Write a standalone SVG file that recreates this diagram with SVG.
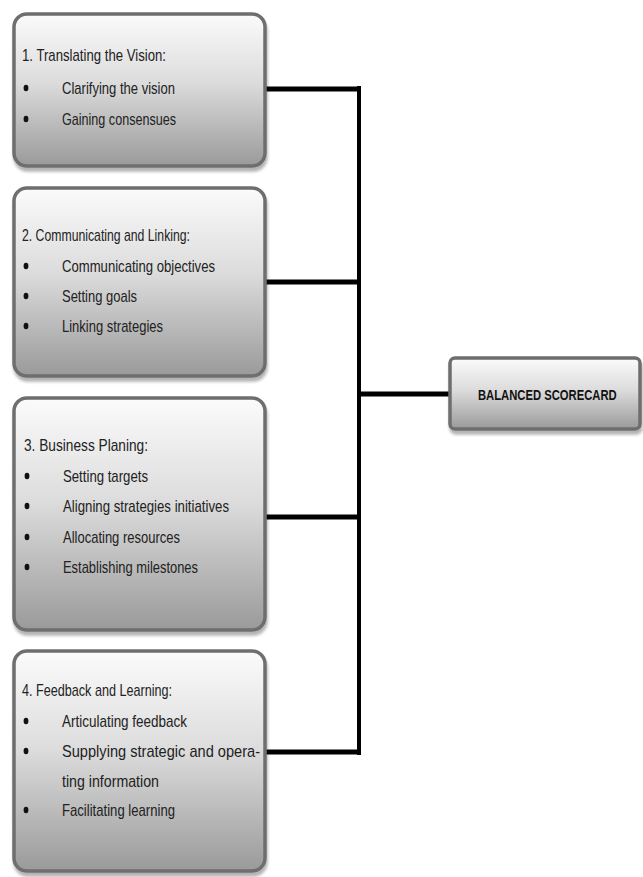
<svg xmlns="http://www.w3.org/2000/svg" width="643" height="877" viewBox="0 0 643 877">
<defs>
<linearGradient id="g" x1="0" y1="0" x2="0" y2="1">
<stop offset="0" stop-color="#fbfbfb"/>
<stop offset="0.45" stop-color="#dcdcdc"/>
<stop offset="1" stop-color="#9a9a9a"/>
</linearGradient>
<filter id="sh" x="-5%" y="-5%" width="110%" height="115%">
<feGaussianBlur in="SourceAlpha" stdDeviation="1.5"/>
<feOffset dx="1" dy="4" result="o"/>
<feComponentTransfer><feFuncA type="linear" slope="0.3"/></feComponentTransfer>
<feMerge><feMergeNode/><feMergeNode in="SourceGraphic"/></feMerge>
</filter>
</defs>
<style>
.box{fill:url(#g);stroke:#6e6e6e;stroke-width:3.5;filter:url(#sh)}
.t{font-family:"Liberation Sans",Arial,sans-serif;font-size:17px;fill:#222}
.b{font-family:"Liberation Sans",Arial,sans-serif;font-size:15px;font-weight:bold;fill:#111}
.dot{fill:#111}
.con{stroke:#000;fill:none;stroke-linecap:square}
</style>
<rect width="643" height="877" fill="#fff"/>
<g id="connectors">
<line class="con" x1="266" y1="89" x2="358" y2="89" stroke-width="5"/>
<line class="con" x1="266" y1="282" x2="358" y2="282" stroke-width="5"/>
<line class="con" x1="266" y1="517" x2="358" y2="517" stroke-width="5"/>
<line class="con" x1="266" y1="752" x2="358" y2="752" stroke-width="5"/>
<line class="con" x1="359" y1="88" x2="359" y2="753" stroke-width="4"/>
<line class="con" x1="361" y1="394" x2="448" y2="394" stroke-width="5"/>
</g>
<g id="node1">
<rect class="box" x="14" y="14" width="251" height="152" rx="13"/>
<text class="t" x="22" y="61" textLength="144" lengthAdjust="spacingAndGlyphs">1. Translating the Vision:</text>
<ellipse class="dot" cx="26" cy="88" rx="2.4" ry="3.2"/>
<text class="t" x="62" y="94" textLength="113" lengthAdjust="spacingAndGlyphs">Clarifying the vision</text>
<ellipse class="dot" cx="26" cy="119" rx="2.4" ry="3.2"/>
<text class="t" x="62" y="125" textLength="114" lengthAdjust="spacingAndGlyphs">Gaining consensues</text>
</g>
<g id="node2">
<rect class="box" x="14" y="188" width="251" height="188" rx="13"/>
<text class="t" x="22" y="241" textLength="168" lengthAdjust="spacingAndGlyphs">2. Communicating and Linking:</text>
<ellipse class="dot" cx="26" cy="266" rx="2.4" ry="3.2"/>
<text class="t" x="62" y="272" textLength="153" lengthAdjust="spacingAndGlyphs">Communicating objectives</text>
<ellipse class="dot" cx="26" cy="296" rx="2.4" ry="3.2"/>
<text class="t" x="62" y="302" textLength="75" lengthAdjust="spacingAndGlyphs">Setting goals</text>
<ellipse class="dot" cx="26" cy="326" rx="2.4" ry="3.2"/>
<text class="t" x="62" y="332" textLength="101" lengthAdjust="spacingAndGlyphs">Linking strategies</text>
</g>
<g id="node3">
<rect class="box" x="14" y="398" width="251" height="232" rx="13"/>
<text class="t" x="24" y="451" textLength="124" lengthAdjust="spacingAndGlyphs">3. Business Planing:</text>
<ellipse class="dot" cx="27" cy="476" rx="2.4" ry="3.2"/>
<text class="t" x="63" y="482" textLength="85" lengthAdjust="spacingAndGlyphs">Setting targets</text>
<ellipse class="dot" cx="27" cy="506" rx="2.4" ry="3.2"/>
<text class="t" x="63" y="512" textLength="166" lengthAdjust="spacingAndGlyphs">Aligning strategies initiatives</text>
<ellipse class="dot" cx="27" cy="537" rx="2.4" ry="3.2"/>
<text class="t" x="63" y="543" textLength="117" lengthAdjust="spacingAndGlyphs">Allocating resources</text>
<ellipse class="dot" cx="27" cy="567" rx="2.4" ry="3.2"/>
<text class="t" x="63" y="573" textLength="135" lengthAdjust="spacingAndGlyphs">Establishing milestones</text>
</g>
<g id="node4">
<rect class="box" x="14" y="651" width="251" height="220" rx="13"/>
<text class="t" x="22" y="696" textLength="150" lengthAdjust="spacingAndGlyphs">4. Feedback and Learning:</text>
<ellipse class="dot" cx="26" cy="721" rx="2.4" ry="3.2"/>
<text class="t" x="62" y="727" textLength="125" lengthAdjust="spacingAndGlyphs">Articulating feedback</text>
<ellipse class="dot" cx="26" cy="751" rx="2.4" ry="3.2"/>
<text class="t" x="62" y="757" textLength="198" lengthAdjust="spacingAndGlyphs">Supplying  strategic  and  opera-</text>
<text class="t" x="62" y="787" textLength="97" lengthAdjust="spacingAndGlyphs">ting information</text>
<ellipse class="dot" cx="26" cy="810" rx="2.4" ry="3.2"/>
<text class="t" x="62" y="816" textLength="113" lengthAdjust="spacingAndGlyphs">Facilitating learning</text>
</g>
<g id="balanced">
<rect class="box" x="450" y="358" width="190" height="71" rx="5"/>
<text class="b" transform="translate(478 400) scale(0.75 1)">BALANCED SCORECARD</text>
</g>
</svg>
